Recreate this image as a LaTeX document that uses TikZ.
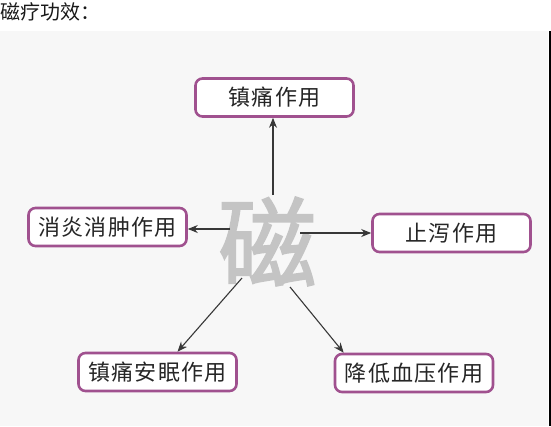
\documentclass[tikz,border=0pt]{standalone}
\usepackage{fontspec}
\newfontfamily\cjk{Noto Sans CJK SC}
\newfontfamily\cifont[FakeBold=2]{Noto Sans CJK SC}
\newfontfamily\boxfont[LetterSpace=6]{Noto Sans CJK SC}
\usetikzlibrary{positioning,arrows.meta}
\definecolor{boxpurple}{HTML}{A0518F}
\definecolor{bggray}{HTML}{F7F7F7}
\definecolor{cigray}{HTML}{C4C4C4}
\definecolor{arrgray}{HTML}{383838}

\begin{document}
\begin{tikzpicture}[x=1pt,y=-1pt,
  box/.style={draw=boxpurple,line width=2.6pt,rounded corners=7pt,fill=white,
    minimum width=158pt,minimum height=38pt,inner sep=0pt,
    font=\boxfont\fontsize{22}{22}\selectfont,text=black!85},
  arr/.style={-{Stealth[length=10pt,width=8pt]},draw=arrgray,line width=1.1pt}]
  \useasboundingbox (0,0) rectangle (551,426);

  % Fondo
  \fill[bggray] (0,31) rectangle (548,426);
  \draw[black,line width=2pt] (549.5,31) -- (549.5,426);

  % Titulo
  \node[anchor=west,inner sep=0pt,font=\cjk\fontsize{20}{20}\selectfont,text=black!90] (title) at (0,12) {磁疗功效：};

  % Caracter central
  \node[inner sep=0pt,font=\cifont\fontsize{98}{98}\selectfont,text=cigray] (ci) at (267.5,241.5) {磁};

  % Cajas
  \node[box] (top)   at (274.5,97.5) {镇痛作用};
  \node[box] (left)  at (107.5,227)  {消炎消肿作用};
  \node[box] (right) at (451.5,233)  {止泻作用};
  \node[box] (bl)    at (157.5,372)  {镇痛安眠作用};
  \node[box] (br)    at (414,373)    {降低血压作用};

  % Puntos de salida
  \coordinate (cN)  at (273,195);
  \coordinate (cW)  at (230,229);
  \coordinate (cE)  at (300,233);
  \coordinate (cSW) at (242,278);
  \coordinate (cSE) at (290,287);

  % Flechas
  \draw[arr] (cN)  -- (cN |- top.south);
  \draw[arr] (cW)  -- (cW -| left.east);
  \draw[arr] (cE)  -- (cE -| right.west);
  \draw[arr] (cSW) -- ([xshift=20pt]bl.north);
  \draw[arr] (cSE) -- ([xshift=10pt]br.north west);
\end{tikzpicture}
\end{document}
